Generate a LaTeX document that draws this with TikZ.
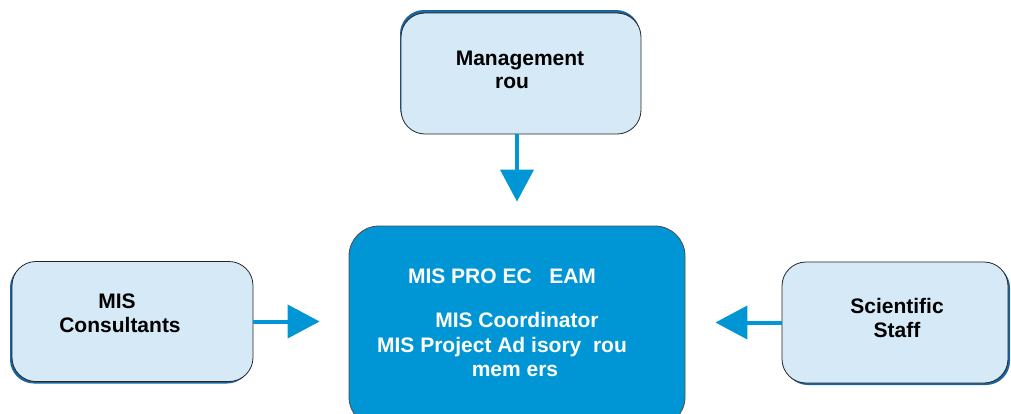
\documentclass[tikz,border=0pt]{standalone}
\usepackage{fontspec}
\setmainfont{Liberation Sans}
\usetikzlibrary{arrows.meta,shadows}
\definecolor{teamblue}{RGB}{0,150,214}
\definecolor{paleblue}{RGB}{214,233,246}
\definecolor{shadowblue}{RGB}{28,100,160}
\tikzset{
  unitbox/.style={draw=black!85, line width=0.8pt, fill=paleblue, rounded corners=24pt, inner sep=0pt},
  teambox/.style={draw=black!70, line width=0.8pt, fill=teamblue, rounded corners=30pt, inner sep=0pt},
  lbl/.style={anchor=base, inner sep=0pt, font=\bfseries\fontsize{21}{24}\selectfont},
  wlbl/.style={lbl, text=white},
  flow/.style={draw=teamblue, line width=4pt, -{Triangle[length=32pt,width=33pt]}}
}
\begin{document}
\begin{tikzpicture}[x=1pt,y=-1pt]
\useasboundingbox (0,0) rectangle (1011,413);

% boxes
\node[unitbox, minimum width=240pt, minimum height=121pt,
      drop shadow={shadow xshift=-1pt, shadow yshift=3pt, fill=shadowblue, opacity=1}]
      (mg) at (521,73.5) {};
\node[teambox, minimum width=336pt, minimum height=201pt] (cen) at (517,326.5) {};
\node[unitbox, minimum width=241pt, minimum height=120pt,
      drop shadow={shadow xshift=-2pt, shadow yshift=-2pt, fill=shadowblue, opacity=1}]
      (cons) at (132.5,321.5) {};
\node[unitbox, minimum width=226pt, minimum height=121pt,
      drop shadow={shadow xshift=2pt, shadow yshift=-2pt, fill=shadowblue, opacity=1}]
      (sci) at (895,322.5) {};

% labels
\node[lbl] (mg1) at (520,65) {Management};
\node[lbl] (mg2) at (512,88) {rou};
\node[lbl] (cons1) at (117,308) {MIS};
\node[lbl] (cons2) at (120,332) {Consultants};
\node[lbl] (sci1) at (897,313) {Scientific};
\node[lbl] (sci2) at (897,337) {Staff};
\node[wlbl] (cen1) at (502,283) {MIS PRO EC~~~EAM};
\node[wlbl] (cen2) at (517,327) {MIS Coordinator};
\node[wlbl] (cen3) at (502,352) {MIS Project Ad isory~~rou};
\node[wlbl] (cen4) at (515,376) {mem ers};

% arrows into the team
\draw[flow, shorten >=24pt] (mg.south -| cen.north) -- (cen.north);
\draw[flow, shorten >=29pt] (cons.east) -- (cons.east -| cen.west);
\draw[flow, shorten >=30pt] (sci.west) -- (sci.west -| cen.east);
\end{tikzpicture}
\end{document}
